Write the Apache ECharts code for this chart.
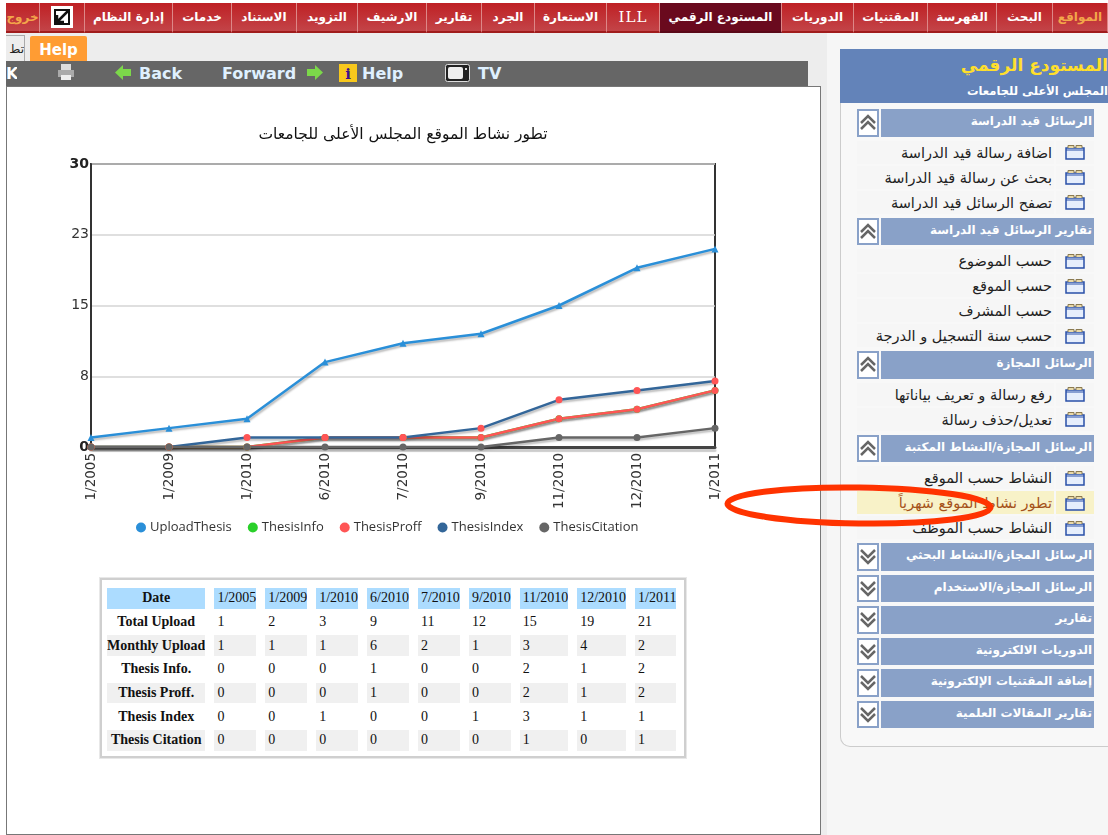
<!DOCTYPE html>
<html>
<head>
<meta charset="utf-8">
<title>تطور نشاط الموقع</title>
<script src="https://cdn.jsdelivr.net/npm/echarts@6/dist/echarts.min.js"></script>
<style>
html, body { margin: 0; padding: 0; background: #fff; width: 1108px; height: 835px; overflow: hidden; font-family: "DejaVu Sans", sans-serif; }
.abs { position: absolute; }
#menu { left: 6px; top: 3px; width: 1102px; height: 30px; display: flex; overflow: hidden; background: #ededed; }
#menu div { box-sizing: border-box; height: 30px; color: #fff; font-weight: bold; font-size: 12px; line-height: 28px; text-align: center; white-space: nowrap; overflow: hidden; border-right: 1px solid #d88; border-bottom: 2px solid #a01c1c; background: linear-gradient(#bf2024, #c34448); }
#menu div.on { background: #6a0a1e; border-bottom-color: #5a0818; }
#menu div.edge { color: #f3a64a; }
#strip { left: 6px; top: 33px; width: 821px; height: 53px; background: #ededed; }
#side-bg { left: 827px; top: 33px; width: 281px; height: 802px; background: #f6f6f6; }
#gap { left: 820px; top: 86px; width: 7px; height: 749px; background: #ededed; }
#tab { left: 6px; top: 35px; width: 18px; height: 26px; background: #ededed; border-right: 1px solid #aaa; border-top: 1px solid #aaa; font-size: 12px; line-height: 26px; overflow: hidden; color: #222; direction: rtl; }
#help { left: 30px; top: 36px; width: 57px; height: 28px; background: #ff9c33; color: #fff; font-weight: bold; font-size: 15px; line-height: 28px; text-align: center; border-radius: 2px; }
#bar { left: 6px; top: 61px; width: 802px; height: 25px; background: #666; }
.tool { top: 62px; color: #dff0ff; font-weight: bold; font-size: 16px; line-height: 24px; white-space: nowrap; }
#box { left: 6px; top: 86px; width: 813px; height: 747px; background: #fff; border: 1px solid #777; }
#chart { left: 7px; top: 100px; width: 810px; height: 450px; }
#tablewrap { left: 100px; top: 578px; width: 586px; height: 180px; box-sizing: border-box; border: 2px solid #cfcfcf; box-shadow: 0 0 0 1px #e8e8e8; background: #fff; overflow: hidden; }
#data { border-collapse: separate; border-spacing: 9px 3px; table-layout: fixed; margin: 5px 0 0 -4px; font-family: "Liberation Serif", serif; font-size: 14px; color: #111; }
#data td { height: 20.7px; padding: 0 0 0 3px; box-sizing: border-box; white-space: nowrap; overflow: hidden; }
#data td.head { font-weight: bold; text-align: center; padding: 0; }
#data tr.first td { background: #acdcff; }
#data tr.even td { background: #f0f0f0; }
#panel { left: 840px; top: 49px; width: 268px; height: 698px; box-sizing: border-box; border: 1px solid #ccc; border-right: none; border-top: none; border-radius: 0 0 0 10px; background: #f8f8f8; }
#panel-head { left: 840px; top: 49px; width: 268px; height: 54px; background: #6383b9; direction: rtl; }
#panel-title { position: absolute; right: 0; top: 1px; color: #ffdf2b; font-weight: bold; font-size: 17px; line-height: 30px; }
#panel-sub { position: absolute; right: 0; top: 31px; color: #fff; font-weight: bold; font-size: 11.5px; line-height: 22px; }
#list { left: 857px; top: 109px; width: 237px; }
.row { display: flex; justify-content: space-between; direction: ltr; }
.sec { height: 27.5px; margin-bottom: 4px; }
.sec .tg { width: 22px; box-sizing: border-box; border: 2px solid #89a1c8; background: #fff; display: flex; align-items: center; justify-content: center; }
.sec .nm { width: 213px; background: #89a1c8; color: #fff; font-weight: bold; font-size: 12px; line-height: 25px; text-align: right; direction: rtl; padding-right: 2px; box-sizing: border-box; white-space: nowrap; overflow: hidden; }
.it { height: 23px; margin-bottom: 2px; }
.it.last { margin-bottom: 4px; }
.it .tx { width: 197px; background: #f6f6f6; color: #222; font-size: 14.5px; line-height: 24px; text-align: right; direction: rtl; padding-right: 2px; box-sizing: border-box; white-space: nowrap; overflow: hidden; }
.it .ic { width: 38px; background: #f6f6f6; display: flex; align-items: center; justify-content: center; }
.it.sel .tx { background: #f8f2c8; color: #a5521a; }
.it.sel .ic { background: #f8f2c8; }
#ring { left: 0; top: 0; pointer-events: none; }
</style>
</head>
<body>
<div id="menu" class="abs"></div>
<div id="strip" class="abs"></div>
<div id="side-bg" class="abs"></div>
<div id="gap" class="abs"></div>
<div id="tab" class="abs">تط</div>
<div id="help" class="abs">Help</div>
<div id="bar" class="abs"></div>
<div class="abs tool" style="left:6px;width:11px;overflow:hidden;color:#fff">K</div>
<svg class="abs" style="left:57px;top:64px" width="19" height="17"><rect x="4" y="0" width="10" height="6" fill="#ddd"/><rect x="1" y="6" width="16" height="7" fill="#aaa"/><rect x="4" y="11" width="10" height="5" fill="#eee"/></svg>
<svg class="abs" style="left:115px;top:65px" width="17" height="15"><path d="M0 7.5L8 0V4H16V11H8V15Z" fill="#7cd84a"/></svg>
<div class="abs tool" style="left:139px">Back</div>
<div class="abs tool" style="left:222px">Forward</div>
<svg class="abs" style="left:306px;top:65px" width="17" height="15"><path d="M17 7.5L9 0V4H1V11H9V15Z" fill="#7cd84a"/></svg>
<svg class="abs" style="left:339px;top:64px" width="18" height="18"><rect width="18" height="18" fill="#f8c81c"/><text x="9" y="15" text-anchor="middle" font-size="15" font-weight="bold" fill="#40108a" font-family="DejaVu Serif">i</text></svg>
<div class="abs tool" style="left:362px">Help</div>
<svg class="abs" style="left:445px;top:63px" width="25" height="19"><rect x="0.5" y="1.5" width="24" height="17" rx="2" fill="#222" stroke="#ddd"/><rect x="3" y="4" width="15" height="12" rx="2" fill="#eee"/><rect x="20" y="5" width="2" height="2" fill="#ddd"/></svg>
<div class="abs tool" style="left:478px">TV</div>
<div id="box" class="abs"></div>
<div id="chart" class="abs"></div>
<div id="tablewrap" class="abs"><table id="data"></table></div>
<div id="panel" class="abs"></div>
<div id="panel-head" class="abs"><div id="panel-title">المستودع الرقمي</div><div id="panel-sub">المجلس الأعلى للجامعات</div></div>
<div id="list" class="abs"></div>
<svg id="ring" class="abs" width="1108" height="835"><ellipse cx="859" cy="505.5" rx="131.5" ry="18" transform="rotate(0.8 859 505.5)" fill="none" stroke="#ff3300" stroke-width="6"/></svg>

<script>
var chartTitle = 'تطور نشاط الموقع المجلس الأعلى للجامعات';
var categories = ['1/2005', '1/2009', '1/2010', '6/2010', '7/2010', '9/2010', '11/2010', '12/2010', '1/2011'];
var uploadThesis = [1, 2, 3, 9, 11, 12, 15, 19, 21];
var thesisInfo = [0, 0, 0, 1, 1, 1, 3, 4, 6];
var thesisProff = [0, 0, 0, 1, 1, 1, 3, 4, 6];
var thesisIndex = [0, 0, 1, 1, 1, 2, 5, 6, 7];
var thesisCitation = [0, 0, 0, 0, 0, 0, 1, 1, 2];

var tableRows = [
  ['Total Upload', 1, 2, 3, 9, 11, 12, 15, 19, 21],
  ['Monthly Upload', 1, 1, 1, 6, 2, 1, 3, 4, 2],
  ['Thesis Info.', 0, 0, 0, 1, 0, 0, 2, 1, 2],
  ['Thesis Proff.', 0, 0, 0, 1, 0, 0, 2, 1, 2],
  ['Thesis Index', 0, 0, 1, 0, 0, 1, 3, 1, 1],
  ['Thesis Citation', 0, 0, 0, 0, 0, 0, 1, 0, 1]
];
var tableColWidths = [99, 42, 42, 42, 42, 42, 41, 49, 48, 42];

var menuLabels = ['خروج', '', 'إدارة النظام', 'خدمات', 'الاستناد', 'التزويد', 'الارشيف', 'تقارير', 'الجرد', 'الاستعارة', 'ILL', 'المستودع الرقمي', 'الدوريات', 'المقتنيات', 'الفهرسة', 'البحث', 'المواقع'];
var menuWidths = [34, 45, 88, 59, 65, 61, 69, 55, 53, 72, 53, 122, 72, 74, 69, 56, 55];

var sections = [
  ['الرسائل قيد الدراسة', ['اضافة رسالة قيد الدراسة', 'بحث عن رسالة قيد الدراسة', 'تصفح الرسائل قيد الدراسة']],
  ['تقارير الرسائل قيد الدراسة', ['حسب الموضوع', 'حسب الموقع', 'حسب المشرف', 'حسب سنة التسجيل و الدرجة']],
  ['الرسائل المجازة', ['رفع رسالة و تعريف بياناتها', 'تعديل/حذف رسالة']],
  ['الرسائل المجازة/النشاط المكتبة', ['النشاط حسب الموقع', 'تطور نشاط الموقع شهرياً', 'النشاط حسب الموظف']],
  ['الرسائل المجازة/النشاط البحثي', []],
  ['الرسائل المجازة/الاستخدام', []],
  ['تقارير', []],
  ['الدوريات الالكترونية', []],
  ['إضافة المقتنيات الإلكترونية', []],
  ['تقارير المقالات العلمية', []]
];
var selectedItem = 'تطور نشاط الموقع شهرياً';

// top menu
var menu = document.getElementById('menu');
menuLabels.forEach(function(label, i) {
  var d = document.createElement('div');
  d.style.width = menuWidths[i] + 'px';
  d.style.flex = 'none';
  d.textContent = label;
  if (label === 'المستودع الرقمي') d.className = 'on';
  if (i === 0 || i === menuLabels.length - 1) d.className = 'edge';
  if (label === 'ILL') { d.style.fontFamily = '"DejaVu Serif", serif'; d.style.fontWeight = 'normal'; d.style.fontSize = '15px'; d.style.letterSpacing = '1px'; }
  if (label === '') {
    d.innerHTML = '<svg width="22" height="22" style="margin-top:3px"><rect width="22" height="22" fill="#fff"/><rect x="4" y="4" width="14" height="14" fill="none" stroke="#111" stroke-width="2"/><path d="M17 5L6 16M6 9V16H13" fill="none" stroke="#111" stroke-width="2.5"/></svg>';
  }
  menu.appendChild(d);
});

// data table
var table = document.getElementById('data');
var html = '<colgroup>' + tableColWidths.map(function(w) { return '<col style="width:' + w + 'px">'; }).join('') + '</colgroup>';
html += '<tr class="first"><td class="head">Date</td>' + categories.map(function(c) { return '<td>' + c + '</td>'; }).join('') + '</tr>';
tableRows.forEach(function(r, i) {
  html += '<tr class="' + (i % 2 ? 'even' : 'odd') + '"><td class="head">' + r[0] + '</td>' +
    r.slice(1).map(function(v) { return '<td>' + v + '</td>'; }).join('') + '</tr>';
});
table.innerHTML = html;

// side menu
var folderIcon = '<svg width="20" height="16"><path d="M1 4H19V15H1Z" fill="#e6eefc" stroke="#2a50a8" stroke-width="1.5"/><path d="M3 4V1.5H9V4M11 4V1.5H17V4" fill="#e8d8a8" stroke="#8a7a50"/><path d="M1 6H19" stroke="#2a50a8"/></svg>';
function toggleIcon(open) {
  var a = open ? 'M2 9L9 2L16 9M2 15L9 8L16 15' : 'M2 2L9 9L16 2M2 8L9 15L16 8';
  return '<svg width="18" height="17"><path d="' + a + '" fill="none" stroke="#666" stroke-width="2.5"/></svg>';
}
var list = document.getElementById('list');
var out = '';
sections.forEach(function(s) {
  out += '<div class="row sec"><div class="tg">' + toggleIcon(s[1].length > 0) + '</div><div class="nm">' + s[0] + '</div></div>';
  s[1].forEach(function(item, j) {
    var cls = 'row it' + (j === s[1].length - 1 ? ' last' : '') + (item === selectedItem ? ' sel' : '');
    out += '<div class="' + cls + '"><div class="tx">' + item + '</div><div class="ic">' + folderIcon + '</div></div>';
  });
});
list.innerHTML = out;

// chart
var shadow = { shadowColor: 'rgba(0,0,0,0.28)', shadowBlur: 2, shadowOffsetX: 1, shadowOffsetY: 2 };
function lineSeries(name, data, lineColor, markColor, symbol, size) {
  return {
    name: name,
    type: 'line',
    data: data,
    symbol: symbol,
    symbolSize: size,
    showSymbol: true,
    clip: false,
    itemStyle: { color: markColor },
    lineStyle: Object.assign({ color: lineColor, width: 2.5 }, shadow)
  };
}
var chart = echarts.init(document.getElementById('chart'));
chart.setOption({
  animation: false,
  title: {
    text: chartTitle,
    left: 391,
    top: 22,
    textAlign: 'center',
    textStyle: { fontFamily: 'DejaVu Sans', fontSize: 15.5, fontWeight: 'normal', color: '#111' }
  },
  grid: { left: 84, top: 64, width: 624, height: 283, show: true, backgroundColor: '#fff', borderColor: '#333', borderWidth: 2 },
  legend: {
    left: 129,
    top: 421,
    padding: 0,
    itemWidth: 10,
    itemHeight: 10,
    itemGap: 16,
    icon: 'circle',
    textStyle: { fontFamily: 'Open Sans', fontSize: 13, color: '#333', padding: [0, 0, 0, -1] },
    data: [
      { name: 'UploadThesis', itemStyle: { color: '#2a8fd8' } },
      { name: 'ThesisInfo', itemStyle: { color: '#2ad02a' } },
      { name: 'ThesisProff', itemStyle: { color: '#ff5555' } },
      { name: 'ThesisIndex', itemStyle: { color: '#336699' } },
      { name: 'ThesisCitation', itemStyle: { color: '#666666' } }
    ]
  },
  xAxis: {
    type: 'category',
    data: categories,
    boundaryGap: false,
    axisTick: { show: false },
    axisLine: { lineStyle: { color: '#444', width: 3, shadowColor: 'rgba(0,0,0,0.2)', shadowOffsetY: 3, shadowBlur: 1 } },
    axisLabel: { rotate: 90, interval: 0, margin: 6, fontFamily: 'DejaVu Sans', fontSize: 13.5, color: '#333' }
  },
  yAxis: {
    type: 'value',
    min: 0,
    max: 30,
    interval: 7.5,
    axisTick: { show: false },
    axisLine: { show: true, lineStyle: { color: '#333', width: 2 } },
    splitLine: { lineStyle: { color: '#d4d4d4', width: 1.5 } },
    axisLabel: {
      margin: 2,
      fontFamily: 'DejaVu Sans',
      fontSize: 14,
      color: '#333',
      formatter: function(v) {
        var s = String(Math.round(v));
        return (v === 0 || v === 30) ? '{b|' + s + '}' : s;
      },
      rich: { b: { fontFamily: 'DejaVu Sans', fontSize: 14, fontWeight: 'bold', color: '#222' } }
    }
  },
  series: [
    lineSeries('UploadThesis', uploadThesis, '#2a8fd8', '#2a8fd8', 'triangle', 7),
    lineSeries('ThesisInfo', thesisInfo, '#2ad02a', '#2ad02a', 'circle', 7),
    lineSeries('ThesisProff', thesisProff, '#ff5555', '#ff5555', 'circle', 7),
    lineSeries('ThesisIndex', thesisIndex, '#336699', '#ff5555', 'circle', 7),
    lineSeries('ThesisCitation', thesisCitation, '#666666', '#666666', 'circle', 7)
  ]
});
</script>
</body>
</html>
